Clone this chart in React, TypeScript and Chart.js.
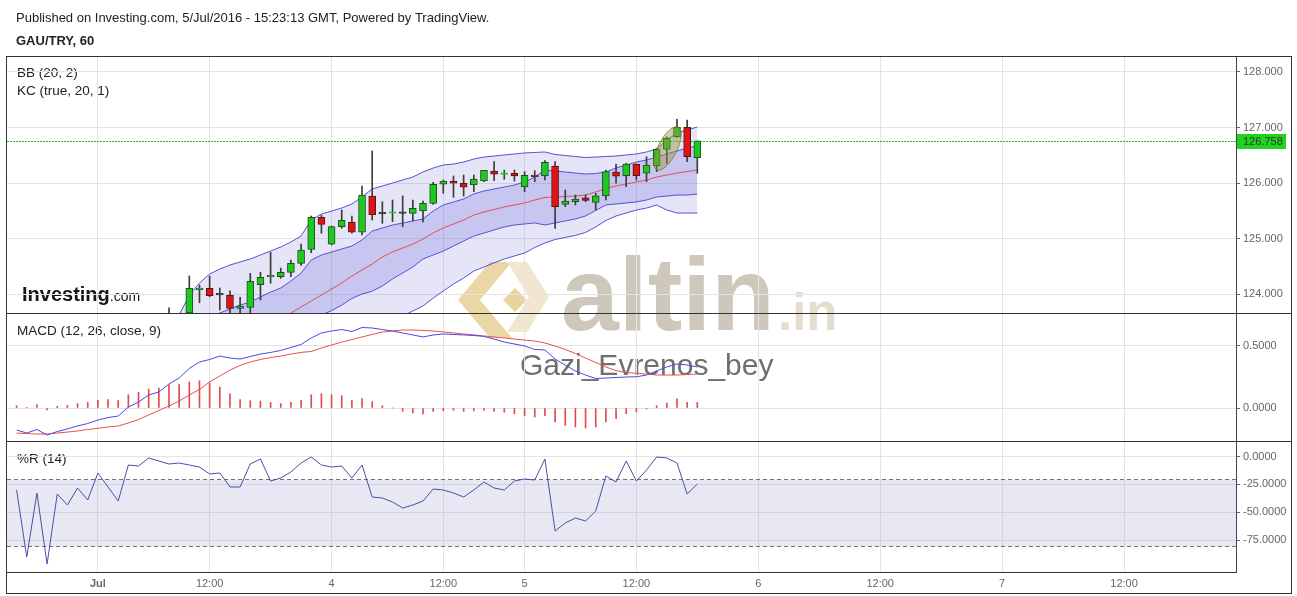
import React, { useEffect, useRef } from 'react';
import { Chart, registerables } from 'chart.js';

Chart.register(...registerables);

// ---------- data (hourly bars, index 0..67) ----------
const timeTickIdx = [8, 19, 31, 42, 50, 61, 73, 85, 97, 109];
const timeTickLabels = ['Jul', '12:00', '4', '12:00', '5', '12:00', '6', '12:00', '7', '12:00'];
const priceTicks = [124, 125, 126, 127, 128];
const macdTicks = [0, 0.5];
const wrTicks = [0, -25, -50, -75];
const wrLevels = [-20, -80];

const opens = [
  123.05, 123.10, 122.80, 123.08, 122.72, 123.12, 123.02, 123.20, 123.10, 123.38,
  123.25, 123.15, 123.45, 123.48, 123.50, 123.47, 123.45, 123.40, 124.080, 124.103,
  123.990, 123.977, 123.742, 123.760, 124.168, 124.310, 124.312, 124.391, 124.553, 124.805,
  125.382, 124.896, 125.213, 125.297, 125.112, 125.766, 125.450, 125.455, 125.456, 125.454,
  125.496, 125.634, 125.977, 126.036, 125.995, 125.964, 126.036, 126.216, 126.155, 126.175,
  125.928, 126.144, 126.126, 126.306, 125.616, 125.663, 125.735, 125.652, 125.766, 126.198,
  126.132, 126.342, 126.175, 126.312, 126.607, 126.834, 127.004, 126.456,
];
const highs = [
  123.20, 123.15, 123.12, 123.10, 123.15, 123.18, 123.22, 123.25, 123.40, 123.42,
  123.30, 123.50, 123.52, 123.55, 123.56, 123.75, 123.58, 124.324, 124.162, 124.324,
  124.108, 124.059, 123.941, 124.373, 124.391, 124.751, 124.468, 124.613, 124.901, 125.405,
  125.418, 125.225, 125.514, 125.405, 125.946, 126.577, 125.663, 125.694, 125.766, 125.694,
  125.676, 126.013, 126.054, 126.126, 126.144, 126.144, 126.230, 126.384, 126.234, 126.234,
  126.204, 126.222, 126.402, 126.384, 125.874, 125.784, 125.784, 125.814, 126.234, 126.342,
  126.355, 126.342, 126.474, 126.625, 126.834, 127.148, 127.135, 126.758,
];
const lows = [
  122.90, 122.75, 122.78, 122.70, 122.70, 122.98, 123.00, 123.05, 123.08, 123.20,
  123.10, 123.12, 123.40, 123.42, 123.44, 123.40, 123.30, 123.350, 123.843, 123.950,
  123.712, 123.650, 123.600, 123.600, 123.892, 124.193, 124.283, 124.312, 124.517, 124.744,
  125.094, 124.883, 125.184, 125.094, 125.063, 125.333, 125.274, 125.303, 125.213, 125.321,
  125.297, 125.616, 125.814, 125.742, 125.766, 125.843, 126.023, 126.041, 126.067, 126.036,
  125.843, 126.023, 126.054, 125.184, 125.573, 125.604, 125.663, 125.514, 125.694, 125.995,
  125.933, 126.054, 126.023, 126.204, 126.355, 126.823, 126.384, 126.175,
];
const closes = [
  123.10, 122.80, 123.08, 122.72, 123.12, 123.02, 123.20, 123.10, 123.38, 123.25,
  123.15, 123.45, 123.48, 123.50, 123.47, 123.45, 123.40, 124.103, 124.090, 123.969,
  123.985, 123.742, 123.784, 124.229, 124.301, 124.320, 124.391, 124.553, 124.793, 125.382,
  125.256, 125.213, 125.328, 125.112, 125.784, 125.429, 125.445, 125.460, 125.452, 125.544,
  125.634, 125.977, 126.036, 125.995, 125.923, 126.072, 126.229, 126.157, 126.160, 126.126,
  126.139, 126.114, 126.373, 125.573, 125.676, 125.712, 125.688, 125.771, 126.204, 126.121,
  126.342, 126.132, 126.324, 126.607, 126.805, 127.004, 126.474, 126.758,
];

const bbUpper = [
  null, null, null, null, null, null, null, null, null, null, null, null, null, null,
  123.081, 123.351, 123.622, 123.982, 124.198, 124.360, 124.450, 124.523, 124.577, 124.631,
  124.703, 124.775, 124.847, 124.937, 125.045, 125.333, 125.441, 125.495, 125.550, 125.622,
  125.748, 125.892, 125.946, 126.000, 126.054, 126.108, 126.198, 126.270, 126.324, 126.342,
  126.378, 126.432, 126.468, 126.486, 126.505, 126.523, 126.541, 126.550, 126.559, 126.514,
  126.495, 126.477, 126.459, 126.468, 126.477, 126.486, 126.505, 126.523, 126.559, 126.613,
  126.775, 126.901, 126.955, 127.009,
];
const basis = [
  null, null, null, null, null, null, null, null, null, null, null, null, null, null,
  122.252, 122.360, 122.468, 122.577, 122.685, 122.793, 122.901, 123.009, 123.117, 123.225,
  123.333, 123.441, 123.550, 123.658, 123.766, 123.874, 123.982, 124.090, 124.198, 124.324,
  124.432, 124.541, 124.667, 124.757, 124.829, 124.901, 124.991, 125.099, 125.189, 125.261,
  125.333, 125.423, 125.477, 125.523, 125.568, 125.604, 125.640, 125.694, 125.739, 125.748,
  125.757, 125.766, 125.784, 125.838, 125.901, 125.946, 125.982, 126.018, 126.054, 126.108,
  126.144, 126.180, 126.207, 126.234,
];
const bbLower = [
  null, null, null, null, null, null, null, null, null, null, null, null, null, null,
  121.423, 121.369, 121.314, 121.172, 121.172, 121.226, 121.352, 121.495, 121.657, 121.819,
  121.963, 122.107, 122.253, 122.379, 122.487, 122.415, 122.523, 122.685, 122.846, 123.026,
  123.116, 123.190, 123.388, 123.514, 123.604, 123.694, 123.784, 123.928, 124.054, 124.180,
  124.288, 124.414, 124.486, 124.560, 124.631, 124.685, 124.739, 124.838, 124.919, 124.982,
  125.019, 125.055, 125.109, 125.208, 125.325, 125.406, 125.459, 125.513, 125.549, 125.603,
  125.513, 125.459, 125.459, 125.459,
];
const kcUpper = [
  null, null, null, null, null, null, null, null, null, null, null, null, null, null,
  123.081, 123.207, 123.351, 123.441, 123.532, 123.604, 123.658, 123.730, 123.802, 123.856,
  123.946, 124.036, 124.108, 124.234, 124.378, 124.613, 124.703, 124.757, 124.811, 124.865,
  124.973, 125.135, 125.189, 125.243, 125.279, 125.315, 125.351, 125.495, 125.604, 125.658,
  125.712, 125.802, 125.856, 125.892, 125.928, 125.964, 126.018, 126.108, 126.234, 126.216,
  126.198, 126.180, 126.162, 126.171, 126.198, 126.270, 126.324, 126.378, 126.414, 126.468,
  126.523, 126.577, 126.631, 126.667,
];
const kcLower = [
  null, null, null, null, null, null, null, null, null, null, null, null, null, null,
  122.000, 122.100, 122.200, 122.300, 122.400, 122.500, 122.600, 122.700, 122.800, 122.900,
  123.000, 123.100, 123.200, 123.300, 123.420, 123.550, 123.620, 123.700, 123.800, 123.920,
  124.000, 124.050, 124.145, 124.271, 124.379, 124.487, 124.631, 124.703, 124.774, 124.864,
  124.954, 125.044, 125.098, 125.154, 125.208, 125.244, 125.262, 125.280, 125.244, 125.280,
  125.316, 125.352, 125.406, 125.505, 125.604, 125.622, 125.640, 125.658, 125.694, 125.748,
  125.765, 125.783, 125.783, 125.801,
];

const macdLine = [
  -0.177, -0.202, -0.173, -0.218, -0.190, -0.169, -0.145, -0.125, -0.097, -0.077,
  -0.065, 0.008, 0.048, 0.105, 0.129, 0.194, 0.242, 0.319, 0.371, 0.391,
  0.419, 0.403, 0.395, 0.415, 0.435, 0.448, 0.464, 0.488, 0.512, 0.565,
  0.605, 0.621, 0.633, 0.617, 0.649, 0.645, 0.633, 0.621, 0.605, 0.589,
  0.573, 0.589, 0.597, 0.593, 0.589, 0.585, 0.577, 0.556, 0.532, 0.516,
  0.500, 0.472, 0.468, 0.395, 0.347, 0.298, 0.266, 0.238, 0.242, 0.246,
  0.250, 0.252, 0.266, 0.298, 0.331, 0.355, 0.347, 0.331,
];
const signalLine = [
  -0.202, -0.206, -0.210, -0.210, -0.202, -0.194, -0.185, -0.173, -0.164, -0.153,
  -0.145, -0.121, -0.093, -0.056, -0.020, 0.016, 0.056, 0.105, 0.149, 0.210,
  0.258, 0.306, 0.343, 0.371, 0.391, 0.407, 0.419, 0.435, 0.448, 0.456,
  0.484, 0.508, 0.532, 0.552, 0.573, 0.593, 0.613, 0.621, 0.629, 0.629,
  0.625, 0.621, 0.613, 0.605, 0.597, 0.589, 0.581, 0.573, 0.565, 0.556,
  0.548, 0.540, 0.524, 0.500, 0.472, 0.440, 0.403, 0.367, 0.331, 0.302,
  0.286, 0.280, 0.274, 0.266, 0.266, 0.266, 0.270, 0.274,
];
const histogram = [
  0.019, 0.002, 0.027, -0.016, 0.014, 0.021, 0.035, 0.045, 0.061, 0.067,
  0.061, 0.107, 0.126, 0.153, 0.161, 0.188, 0.188, 0.210, 0.220, 0.202,
  0.169, 0.115, 0.067, 0.059, 0.056, 0.045, 0.035, 0.045, 0.061, 0.107,
  0.115, 0.107, 0.099, 0.061, 0.075, 0.051, 0.019, 0.000, -0.027, -0.040,
  -0.048, -0.027, -0.022, -0.019, -0.027, -0.022, -0.019, -0.027, -0.035, -0.046,
  -0.062, -0.073, -0.062, -0.113, -0.140, -0.153, -0.161, -0.153, -0.113, -0.086,
  -0.046, -0.032, -0.008, 0.019, 0.040, 0.073, 0.046, 0.046,
];
const williamsR = [
  -30.0, -90.3, -32.7, -96.6, -33.6, -43.5, -28.2, -39.0, -14.7, -27.3,
  -39.9, -7.5, -8.4, -1.2, -3.9, -6.6, -5.7, -7.5, -9.3, -15.6,
  -14.7, -27.3, -27.3, -6.6, -2.1, -21.9, -19.2, -13.8, -5.7, -0.3,
  -7.5, -9.3, -8.4, -19.2, -7.5, -36.3, -37.2, -40.8, -46.2, -43.5,
  -39.9, -29.1, -30.0, -32.7, -36.3, -30.0, -22.8, -28.2, -30.0, -21.9,
  -20.1, -21.0, -2.1, -66.9, -59.7, -55.2, -57.9, -48.9, -17.4, -22.8,
  -3.9, -21.9, -12.0, -0.3, -1.2, -5.7, -33.6, -24.6,
];

// highlighted area (user drawn ellipse), in data coordinates
const highlightX = 64.06;
const highlightY = 126.622;

// ---------- layout / style ----------
const FONT = '"Liberation Sans", Arial, Helvetica, sans-serif';
const X_MIN = -0.945;
const X_MAX = 120.02;
const PRICE_MIN = 123.658;
const PRICE_MAX = 128.27;
const MACD_MIN = -0.2661;
const MACD_MAX = 0.7661;
const WR_MIN = -103.8;
const WR_MAX = 14.1;
const AXIS_W = 61;

const GREEN = '#1ec81e';
const RED = '#e01414';

const pts = (arr: any[]) => arr.map((v, i) => ({ x: i, y: v }));

// clip a floating range to the visible price window (bars outside it are not drawn)
const clipRange = (a: number, b: number) => {
  const lo = Math.min(a, b);
  const hi = Math.max(a, b);
  if (hi < PRICE_MIN || lo > PRICE_MAX) return null;
  return [Math.max(a, PRICE_MIN), Math.max(b, PRICE_MIN)];
};

function makeX(show: boolean): any {
  return {
    type: 'linear',
    min: X_MIN,
    max: X_MAX,
    bounds: 'data',
    offset: false,
    afterBuildTicks: (s: any) => {
      s.ticks = timeTickIdx.map((v) => ({ value: v }));
    },
    afterFit: (s: any) => {
      s.height = show ? 22 : 0;
      s.paddingLeft = 0;
      s.paddingRight = 0;
    },
    grid: { color: '#e4e4e4', drawTicks: false, offset: false },
    border: { display: show, color: '#444' },
    ticks: {
      display: show,
      autoSkip: false,
      maxRotation: 0,
      padding: 5,
      color: '#666',
      font: (ctx: any) => ({
        family: FONT,
        size: 11,
        weight: timeTickLabels[ctx.index] === 'Jul' ? 'bold' : 'normal',
      }),
      callback: (_v: any, i: number) => timeTickLabels[i],
    },
  };
}

function makeY(min: number, max: number, ticks: number[], decimals: number): any {
  return {
    type: 'linear',
    position: 'right',
    min,
    max,
    bounds: 'data',
    beginAtZero: false,
    afterBuildTicks: (s: any) => {
      s.ticks = ticks.map((v) => ({ value: v }));
    },
    afterFit: (s: any) => {
      s.width = AXIS_W;
      s.paddingTop = 0;
      s.paddingBottom = 0;
    },
    grid: { color: '#e4e4e4', drawTicks: true, tickLength: 4, tickColor: '#666' },
    border: { display: true, color: '#444' },
    ticks: {
      padding: 3,
      color: '#666',
      font: { family: FONT, size: 11 },
      callback: (v: any) => Number(v).toFixed(decimals),
    },
  };
}

function baseOptions(x: any, y: any): any {
  return {
    responsive: false,
    maintainAspectRatio: false,
    animation: false,
    devicePixelRatio: 1,
    layout: { padding: 0 },
    events: [],
    plugins: {
      legend: { display: false },
      tooltip: { enabled: false },
      filler: { drawTime: 'beforeDatasetsDraw' },
    },
    scales: { x, y },
  };
}

function poly(ctx: CanvasRenderingContext2D, p: number[][]) {
  ctx.beginPath();
  ctx.moveTo(p[0][0], p[0][1]);
  for (let i = 1; i < p.length; i++) ctx.lineTo(p[i][0], p[i][1]);
  ctx.closePath();
  ctx.fill();
}

function drawDecor(ctx: CanvasRenderingContext2D) {
  ctx.clearRect(0, 0, 1297, 596);
  ctx.textBaseline = 'alphabetic';
  ctx.fillStyle = '#222';
  ctx.font = `13px ${FONT}`;
  ctx.fillText('Published on Investing.com, 5/Jul/2016 - 15:23:13 GMT, Powered by TradingView.', 16, 22);
  ctx.font = `bold 13px ${FONT}`;
  ctx.fillText('GAU/TRY, 60', 16, 45);

  ctx.font = `13.5px ${FONT}`;
  ctx.fillText('BB (20, 2)', 17, 77);
  ctx.fillText('KC (true, 20, 1)', 17, 95);
  ctx.fillText('MACD (12, 26, close, 9)', 17, 335);
  ctx.fillText('%R (14)', 17, 463);

  // Investing.com logo
  ctx.fillStyle = '#161616';
  ctx.font = `bold 20px ${FONT}`;
  ctx.fillText('Investing', 22, 301);
  const w = ctx.measureText('Investing').width;
  ctx.font = `14px ${FONT}`;
  ctx.fillText('.com', 22 + w, 301);

  // altin.in watermark
  ctx.fillStyle = '#ebd7a6';
  poly(ctx, [[490, 262], [512, 262], [480, 300], [512, 338], [490, 338], [458, 300]]);
  ctx.fillStyle = '#f1e6cf';
  poly(ctx, [[507, 262], [527, 262], [549, 297], [527, 332], [507, 332], [529, 297]]);
  ctx.fillStyle = '#e9d3a0';
  poly(ctx, [[515, 288], [527, 300], [515, 312], [503, 300]]);

  ctx.fillStyle = '#cdc7bc';
  ctx.font = `bold 104px ${FONT}`;
  ctx.fillText('altin', 561, 330);
  ctx.fillStyle = '#e4ddd0';
  ctx.font = `bold 51px ${FONT}`;
  ctx.fillText('.in', 778, 330);

  ctx.fillStyle = '#6f6f6f';
  ctx.font = `30px ${FONT}`;
  ctx.fillText('Gazi_Evrenos_bey', 520, 375);
}

export default function App() {
  const decorRef = useRef<HTMLCanvasElement>(null);
  const priceRef = useRef<HTMLCanvasElement>(null);
  const macdRef = useRef<HTMLCanvasElement>(null);
  const wrRef = useRef<HTMLCanvasElement>(null);

  useEffect(() => {
    const dctx = decorRef.current!.getContext('2d')!;
    drawDecor(dctx);

    const charts: any[] = [];
    const last = closes[closes.length - 1];

    const bodyColors = closes.map((c, i) => (c >= opens[i] ? GREEN : RED));
    const bodyBorders = closes.map((c, i) => {
      const doji = Math.abs(c - opens[i]) < 0.008;
      if (c >= opens[i]) return doji ? GREEN : '#1f4f1f';
      return doji ? '#2a3a2a' : '#5a1212';
    });
    const bodyFill = closes.map((c, i) => {
      const doji = Math.abs(c - opens[i]) < 0.008;
      return doji && c < opens[i] ? '#2a3a2a' : bodyColors[i];
    });

    const pricePlugin = {
      id: 'priceExtras',
      beforeDatasetsDraw(chart: any) {
        const { ctx, chartArea, scales } = chart;
        const y = Math.round(scales.y.getPixelForValue(last)) + 0.5;
        ctx.save();
        ctx.strokeStyle = '#1fbf1f';
        ctx.lineWidth = 1;
        ctx.setLineDash([2, 1]);
        ctx.beginPath();
        ctx.moveTo(chartArea.left, y);
        ctx.lineTo(chartArea.right, y);
        ctx.stroke();
        ctx.restore();
      },
      afterDatasetsDraw(chart: any) {
        const { ctx, scales } = chart;
        const x = scales.x.getPixelForValue(highlightX);
        const y = scales.y.getPixelForValue(highlightY);
        ctx.save();
        ctx.beginPath();
        ctx.ellipse(x, y, 24, 9.5, -1.1, 0, Math.PI * 2);
        ctx.fillStyle = 'rgba(150,150,60,0.45)';
        ctx.fill();
        ctx.strokeStyle = 'rgba(120,120,40,0.75)';
        ctx.lineWidth = 1;
        ctx.stroke();
        ctx.restore();
      },
      afterDraw(chart: any) {
        const { ctx, chartArea, scales } = chart;
        const y = Math.round(scales.y.getPixelForValue(last));
        const x0 = chartArea.right + 1;
        ctx.save();
        ctx.fillStyle = '#1fd41f';
        ctx.fillRect(x0, y - 7, 49, 15);
        ctx.fillStyle = '#333';
        ctx.font = `11px ${FONT}`;
        ctx.textBaseline = 'middle';
        ctx.fillText(last.toFixed(3), x0 + 6, y + 1);
        ctx.restore();
      },
    };

    charts.push(
      new Chart(priceRef.current!, {
        type: 'bar',
        data: {
          datasets: [
            {
              type: 'bar',
              data: closes.map((c, i) => ({ x: i, y: clipRange(opens[i], c) })) as any,
              backgroundColor: bodyFill,
              borderColor: bodyBorders,
              borderWidth: 1,
              borderSkipped: false,
              barThickness: 7,
              minBarLength: 1.5,
              grouped: false,
              order: 0,
            } as any,
            {
              type: 'bar',
              data: closes.map((_c, i) => ({ x: i, y: clipRange(lows[i], highs[i]) })) as any,
              backgroundColor: '#3c3c3c',
              borderWidth: 0,
              barThickness: 1,
              grouped: false,
              order: 1,
            } as any,
            {
              type: 'line',
              data: pts(basis),
              borderColor: '#e05050',
              borderWidth: 1,
              pointRadius: 0,
              fill: false,
              order: 2,
            } as any,
            {
              type: 'line',
              data: pts(kcUpper),
              borderColor: '#5252d6',
              borderWidth: 1,
              pointRadius: 0,
              fill: 4,
              backgroundColor: 'rgba(100,100,220,0.24)',
              order: 3,
            } as any,
            {
              type: 'line',
              data: pts(kcLower),
              borderColor: '#5252d6',
              borderWidth: 1,
              pointRadius: 0,
              fill: false,
              order: 4,
            } as any,
            {
              type: 'line',
              data: pts(bbUpper),
              borderColor: '#5252d6',
              borderWidth: 1,
              pointRadius: 0,
              fill: 6,
              backgroundColor: 'rgba(110,110,210,0.18)',
              order: 5,
            } as any,
            {
              type: 'line',
              data: pts(bbLower),
              borderColor: '#5252d6',
              borderWidth: 1,
              pointRadius: 0,
              fill: false,
              order: 6,
            } as any,
          ],
        },
        options: baseOptions(makeX(false), makeY(PRICE_MIN, PRICE_MAX, priceTicks, 3)),
        plugins: [pricePlugin],
      } as any)
    );

    charts.push(
      new Chart(macdRef.current!, {
        type: 'bar',
        data: {
          datasets: [
            {
              type: 'line',
              data: pts(macdLine),
              borderColor: '#4848e0',
              borderWidth: 1,
              pointRadius: 0,
              order: 0,
            } as any,
            {
              type: 'line',
              data: pts(signalLine),
              borderColor: '#e65050',
              borderWidth: 1,
              pointRadius: 0,
              order: 1,
            } as any,
            {
              type: 'bar',
              data: pts(histogram),
              backgroundColor: '#e04c4c',
              borderWidth: 0,
              barThickness: 1,
              grouped: false,
              order: 2,
            } as any,
          ],
        },
        options: baseOptions(makeX(false), makeY(MACD_MIN, MACD_MAX, macdTicks, 4)),
      } as any)
    );

    const wrPlugin = {
      id: 'wrBand',
      beforeDatasetsDraw(chart: any) {
        const { ctx, chartArea, scales } = chart;
        const y1 = Math.round(scales.y.getPixelForValue(wrLevels[0])) + 0.5;
        const y2 = Math.round(scales.y.getPixelForValue(wrLevels[1])) + 0.5;
        ctx.save();
        ctx.fillStyle = 'rgba(150,150,210,0.22)';
        ctx.fillRect(chartArea.left, y1, chartArea.right - chartArea.left, y2 - y1);
        ctx.strokeStyle = '#707070';
        ctx.lineWidth = 1;
        ctx.setLineDash([4, 3]);
        ctx.beginPath();
        ctx.moveTo(chartArea.left, y1);
        ctx.lineTo(chartArea.right, y1);
        ctx.moveTo(chartArea.left, y2);
        ctx.lineTo(chartArea.right, y2);
        ctx.stroke();
        ctx.restore();
      },
    };

    charts.push(
      new Chart(wrRef.current!, {
        type: 'line',
        data: {
          datasets: [
            {
              data: pts(williamsR),
              borderColor: '#4c4ca8',
              borderWidth: 1,
              pointRadius: 0,
            } as any,
          ],
        },
        options: baseOptions(makeX(true), makeY(WR_MIN, WR_MAX, wrTicks, 4)),
        plugins: [wrPlugin],
      } as any)
    );

    return () => charts.forEach((c) => c.destroy());
  }, []);

  const line = (style: any) => (
    <div style={{ position: 'absolute', background: '#333', pointerEvents: 'none', ...style }} />
  );

  return (
    <div
      style={{
        position: 'absolute',
        left: 0,
        top: 0,
        width: 1297,
        height: 596,
        background: '#fff',
        overflow: 'hidden',
      }}
    >
      <canvas ref={decorRef} width={1297} height={596} style={{ position: 'absolute', left: 0, top: 0 }} />
      <canvas
        ref={priceRef}
        width={1290}
        height={256}
        style={{ position: 'absolute', left: 7, top: 57, width: 1290, height: 256 }}
      />
      <canvas
        ref={macdRef}
        width={1290}
        height={128}
        style={{ position: 'absolute', left: 7, top: 313, width: 1290, height: 128 }}
      />
      <canvas
        ref={wrRef}
        width={1290}
        height={153}
        style={{ position: 'absolute', left: 7, top: 441, width: 1290, height: 153 }}
      />
      {line({ left: 6, top: 56, width: 1286, height: 1 })}
      {line({ left: 6, top: 56, width: 1, height: 538 })}
      {line({ left: 1291, top: 56, width: 1, height: 538 })}
      {line({ left: 6, top: 593, width: 1286, height: 1 })}
      {line({ left: 6, top: 313, width: 1286, height: 1 })}
      {line({ left: 6, top: 441, width: 1286, height: 1 })}
      {line({ left: 6, top: 572, width: 1230, height: 1 })}
    </div>
  );
}
